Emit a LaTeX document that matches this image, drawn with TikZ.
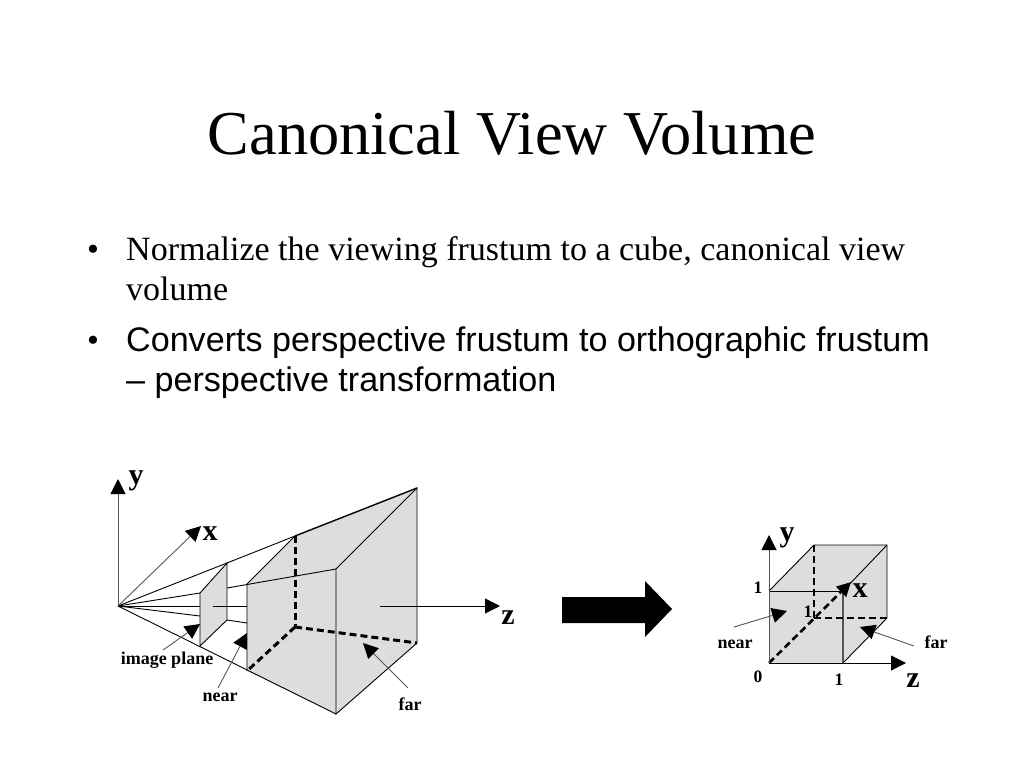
\documentclass[tikz,border=0pt]{standalone}
\usepackage{fontspec}
\setmainfont{Liberation Serif}
\setsansfont{Liberation Sans}
\usetikzlibrary{arrows.meta}
\definecolor{facegray}{HTML}{DDDDDD}
\definecolor{axisgray}{HTML}{555555}
\tikzset{
  edge/.style={line width=0.9pt,black},
  hidden/.style={line width=3pt,black,dash pattern=on 7pt off 4pt},
  axis/.style={line width=1pt,axisgray,-{Triangle[length=15pt,width=15pt,color=black]}},
  pointer/.style={line width=0.9pt,axisgray,-{Triangle[length=15pt,width=15pt,color=black]}},
  axislabel/.style={font=\fontsize{30}{30}\selectfont\bfseries,inner sep=0pt,anchor=base},
  tag/.style={font=\fontsize{18}{18}\selectfont\bfseries,inner sep=0pt,anchor=base},
  num/.style={font=\fontsize{17.5}{17.5}\selectfont\bfseries,inner sep=0pt,anchor=base},
  bulletline/.style={anchor=base west,inner sep=0pt},
}
\begin{document}
\begin{tikzpicture}[x=1pt,y=-1pt]
    \useasboundingbox (0,0) rectangle (1024,768);

    % Title and bullets
    \node[inner sep=0pt,anchor=base,font=\fontsize{62.4}{62.4}\selectfont] (title) at (512,154) {Canonical View Volume};
    \node[bulletline,font=\fontsize{34}{34}\selectfont] (dotA) at (87,260) {•};
    \node[bulletline,font=\fontsize{34}{34}\selectfont] (lineA) at (126,260) {Normalize the viewing frustum to a cube, canonical view};
    \node[bulletline,font=\fontsize{34}{34}\selectfont] (lineB) at (126,300) {volume};
    \node[bulletline,font=\fontsize{34}{34}\selectfont] (dotB) at (87,351) {•};
    \node[bulletline,font=\fontsize{34.1}{34}\selectfont\sffamily] (lineC) at (126,351) {Converts perspective frustum to orthographic frustum};
    \node[bulletline,font=\fontsize{34.1}{34}\selectfont\sffamily] (lineD) at (126,391) {– perspective transformation};

    % Frustum points
    \coordinate (O) at (118,606);
    \coordinate (yTip) at (118,479);
    \coordinate (xTip) at (201,526);
    \coordinate (zStart) at (380,606);
    \coordinate (zTip) at (500,606);
    \coordinate (imgA) at (200,593);
    \coordinate (imgB) at (227,563);
    \coordinate (imgC) at (227,620);
    \coordinate (imgD) at (200,646);
    \coordinate (nearA) at (247,584);
    \coordinate (nearB) at (295,536);
    \coordinate (nearC) at (295,627);
    \coordinate (nearD) at (247,671);
    \coordinate (farA) at (336,569);
    \coordinate (farB) at (417,488);
    \coordinate (farC) at (417,643);
    \coordinate (farD) at (336,714);
    \coordinate (rayIn) at (200,606);
    \coordinate (rayOut) at (213,606);
    \coordinate (rayEnd) at (247,606);
    \coordinate (lowIn) at (200,616);
    \coordinate (lowEnd) at (247,623);
    \coordinate (midOut) at (227,588);

    % Faces
    \fill[facegray] (imgA) -- (imgB) -- (imgC) -- (imgD) -- cycle;
    \fill[facegray] (nearA) -- (nearB) -- (farB) -- (farC) -- (farD) -- (nearD) -- cycle;

    % Rays from the eye
    \draw[edge] (O) -- (imgB);
    \draw[edge] (imgB) -- (nearB);
    \draw[edge,line width=1.4pt] (nearB) -- (farB);
    \draw[edge] (O) -- (imgA);
    \draw[edge] (O) -- (rayIn);
    \draw[edge] (rayOut) -- (rayEnd);
    \draw[edge] (O) -- (lowIn);
    \draw[edge] (imgC) -- (lowEnd);
    \draw[edge] (O) -- (farD);
    \draw[edge] (midOut) -- (farA);

    % Frustum edges
    \draw[edge] (imgA) -- (imgB) -- (imgC) -- (imgD) -- cycle;
    \draw[edge] (nearD) -- (nearA) -- (nearB);
    \draw[edge] (farA) -- (farB) -- (farC) -- (farD) -- cycle;
    \draw[hidden] (nearB) -- (nearC);
    \draw[hidden] (nearC) -- (nearD);
    \draw[hidden] (nearC) -- (farC);

    % Axes of the frustum
    \draw[axis] (O) -- (yTip);
    \draw[axis,line width=0.9pt] (O) -- (xTip);
    \draw[axis,black] (zStart) -- (zTip);
    \node[axislabel] (yLabel) at (136,484) {y};
    \node[axislabel] (xLabel) at (210,540) {x};
    \node[axislabel] (zLabel) at (508,624) {z};

    % Frustum labels
    \node[tag] (imageLabel) at (167,664) {image plane};
    \node[tag] (nearLabel) at (220,701) {near};
    \node[tag] (farLabel) at (410,710) {far};
    \coordinate (imageTip) at (200,624);
    \coordinate (nearTip) at (247,633);
    \coordinate (farTip) at (363,643);
    \coordinate (imageTail) at (163,650);
    \coordinate (nearTail) at (218,688);
    \coordinate (farTail) at (408,688);
    \draw[pointer] (imageTail) -- (imageTip);
    \draw[pointer] (nearTail) -- (nearTip);
    \draw[pointer] (farTail) -- (farTip);

    % Big arrow
    \fill[black] (562,597) -- (645,597) -- (645,581) -- (672,609) -- (645,637) -- (645,623) -- (562,623) -- cycle;

    % Cube points
    \coordinate (P) at (769,663);
    \coordinate (Q) at (843,663);
    \coordinate (R) at (843,591);
    \coordinate (S) at (769,591);
    \coordinate (T) at (814,618);
    \coordinate (U) at (887,618);
    \coordinate (V) at (887,545);
    \coordinate (W) at (814,545);
    \coordinate (cubeY) at (769,535);
    \coordinate (cubeZ) at (906,663);
    \coordinate (cubeX) at (851,582);

    % Cube
    \fill[facegray] (P) -- (S) -- (W) -- (V) -- (U) -- (Q) -- cycle;
    \draw[edge] (S) -- (W) -- (V) -- (U) -- (Q);
    \draw[edge] (V) -- (R);
    \draw[edge] (S) -- (R);
    \draw[edge,axisgray,line width=1.1pt] (Q) -- (R);
    \draw[hidden,line width=2.6pt] (W) -- (T);
    \draw[hidden,line width=2.6pt] (T) -- (U);
    \draw[hidden,line width=2.6pt,-{Triangle[length=14pt,width=14pt]}] (P) -- (cubeX);
    \draw[axis] (P) -- (cubeY);
    \draw[axis,black] (P) -- (cubeZ);

    % Cube labels
    \node[axislabel] (cubeYLabel) at (787,541) {y};
    \node[axislabel] (cubeXLabel) at (860,597) {x};
    \node[axislabel] (cubeZLabel) at (913,687) {z};
    \node[num] (zeroLabel) at (758,682) {0};
    \node[num] (oneZ) at (839,685) {1};
    \node[num] (oneY) at (758,593) {1};
    \node[num] (oneX) at (808,617) {1};
    \node[tag] (cubeNear) at (735,648) {near};
    \node[tag] (cubeFar) at (936,648) {far};
    \coordinate (cubeNearTip) at (787,611);
    \coordinate (cubeFarTip) at (860,627);
    \coordinate (cubeNearTail) at (734,627);
    \coordinate (cubeFarTail) at (914,646);
    \draw[pointer] (cubeNearTail) -- (cubeNearTip);
    \draw[pointer] (cubeFarTail) -- (cubeFarTip);
\end{tikzpicture}
\end{document}
